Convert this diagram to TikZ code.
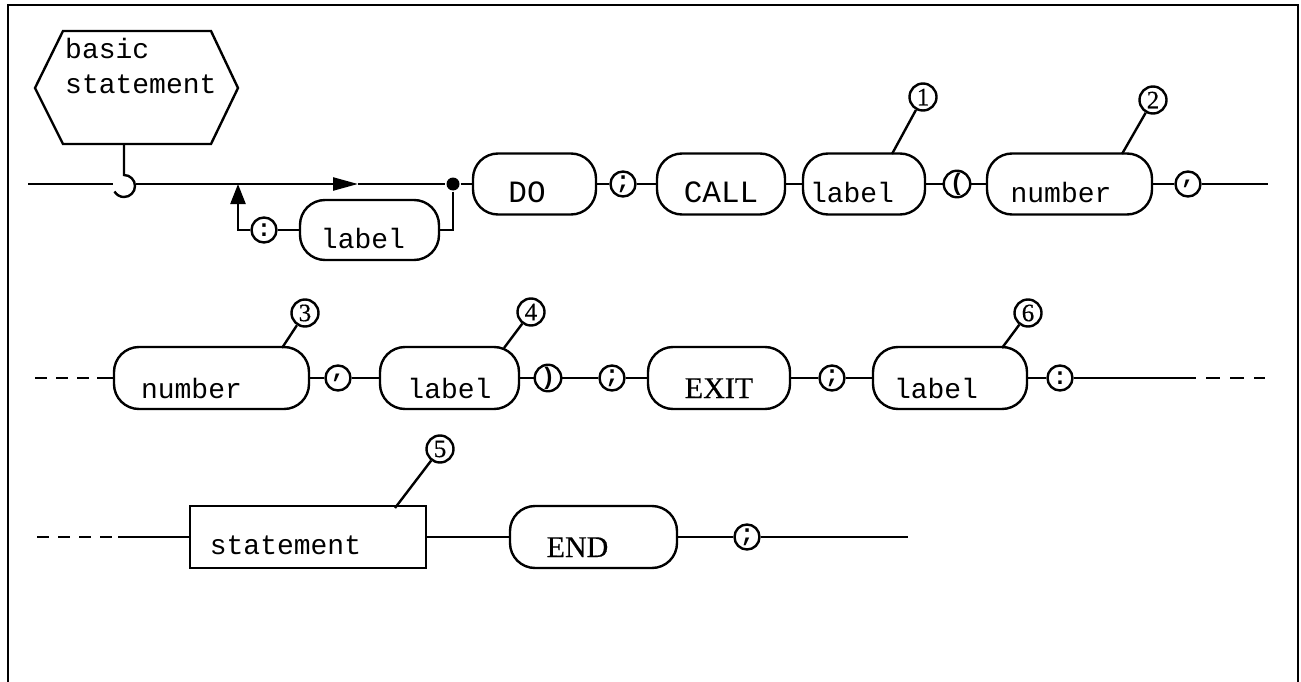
\documentclass[tikz,border=0pt]{standalone}
\usepackage{fontspec}
\setmainfont{Liberation Serif}[FakeBold=0.4]
\setmonofont{Liberation Mono}
\usetikzlibrary{arrows.meta,calc}
\begin{document}
\begin{tikzpicture}[x=1pt,y=-1pt,line width=2.4pt,
  term/.style={draw,rounded corners=25pt,inner sep=0pt,minimum height=61pt,
    text height=40pt,text depth=4pt,font=\ttfamily\fontsize{28}{28}\selectfont},
  termb/.style={term,text height=44pt,minimum height=62pt},
  sterm/.style={termb,font=\rmfamily\fontsize{30}{30}\selectfont},
  pc/.style={draw,circle,minimum size=25pt,inner sep=0pt,
    font=\ttfamily\bfseries\fontsize{24}{24}\selectfont},
  cn/.style={draw,circle,minimum size=27pt,inner sep=0pt,
    font=\rmfamily\fontsize{25}{25}\selectfont},
  dotn/.style={circle,fill,inner sep=0pt,minimum size=13pt},
  capsfont/.style={font=\ttfamily\fontsize{31}{31}\selectfont},
  dsh/.style={dash pattern=on 12pt off 9pt}]
\useasboundingbox (0,0) rectangle (1301,682);
% frame
\draw[line width=2.8pt] (8,682) -- (8,5) -- (1298,5) -- (1298,682);

% hexagon
\draw (35,88) -- (63,31) -- (211,31) -- (238,88) -- (211,144) -- (63,144) -- cycle;
\node[anchor=north west,inner sep=0pt,align=left,font=\ttfamily\fontsize{28}{35}\selectfont] (hxt) at (64,37) {basic\\statement};
\coordinate (hexb) at (124,144);
\coordinate (hk) at (124,175);

% ---------------- row 1
\coordinate (st) at (28,184);
\coordinate (hl) at (113,184);
\coordinate (hr) at (136,184);
\coordinate (ar) at (358,184);
\coordinate (up) at (238,184);
\node[dotn] (dot) at (453,184) {};
\node[term,minimum width=139pt,minimum height=60pt] (lb0) at (369.5,230) {label\kern13pt};
\node[pc] (col0) at (264,230) {:};
\node[term,minimum width=123pt,capsfont] (do) at (534.5,184) {DO\kern15pt};
\node[pc] (sc1) at (623,184) {;};
\node[term,minimum width=128pt,capsfont] (call) at (721,184) {CALL};
\node[term,minimum width=122pt] (lb1) at (864,184) {label\kern24pt};
\node[pc] (lp) at (957,184) {(};
\node[term,minimum width=165pt] (nm1) at (1069.5,184) {number\kern17pt};
\node[pc] (cm1) at (1188,184) {,};
\coordinate (e1) at (1268,184);
\node[cn] (n1) at (923,97) {1};
\node[cn] (n2) at (1153,100) {2};
\coordinate (t1) at (892,154);
\coordinate (t2) at (1122,154);

\draw (hexb) -- (hk) arc[start angle=-90,end angle=150,radius=11];
\draw (st) -- (hl);
\draw[-{Triangle[length=25pt,width=13pt]}] (hr) -- (ar);
\draw (ar) -- (dot);
\draw (dot) -- (do);
\draw (dot) |- (lb0.east);
\draw (lb0) -- (col0);
\draw[-{Triangle[length=20pt,width=15pt]}] (col0.west) -| (up);
\draw (do) -- (sc1);
\draw (sc1) -- (call);
\draw (call) -- (lb1);
\draw (lb1) -- (lp);
\draw (lp) -- (nm1);
\draw (nm1) -- (cm1);
\draw (cm1) -- (e1);
\draw (t1) -- (n1);
\draw (t2) -- (n2);

% ---------------- row 2
\coordinate (s2) at (35,378);
\coordinate (s2b) at (97,378);
\node[termb,minimum width=195pt] (nm2) at (211.5,378) {number\kern40pt};
\node[pc] (cm2) at (338,378) {,};
\node[termb,minimum width=139pt] (lb2) at (449.5,378) {label};
\node[pc] (rp) at (548,378) {)};
\node[pc] (sc2) at (612,378) {;};
\node[sterm,minimum width=142pt] (exit) at (719,378) {EXIT};
\node[pc] (sc3) at (832,378) {;};
\node[termb,minimum width=154pt] (lb3) at (950,378) {label\kern28pt};
\node[pc] (col2) at (1060,378) {:};
\coordinate (e2a) at (1182,378);
\coordinate (e2) at (1265,378);
\node[cn] (n3) at (305,313) {3};
\node[cn] (n4) at (531,312) {4};
\node[cn] (n6) at (1028,313) {6};
\coordinate (t3) at (282,348);
\coordinate (t4) at (504,348);
\coordinate (t6) at (1002,348);

\draw[dsh] (s2) -- (s2b);
\draw (s2b) -- (nm2);
\draw (nm2) -- (cm2);
\draw (cm2) -- (lb2);
\draw (lb2) -- (rp);
\draw (rp) -- (sc2);
\draw (sc2) -- (exit);
\draw (exit) -- (sc3);
\draw (sc3) -- (lb3);
\draw (lb3) -- (col2);
\draw (col2) -- (e2a);
\draw[dash pattern=on 14pt off 10pt] (e2a) -- (e2);
\draw (t3) -- (n3);
\draw (t4) -- (n4);
\draw (t6) -- (n6);

% ---------------- row 3
\coordinate (s3) at (37,537);
\coordinate (s3b) at (118,537);
\node[draw,inner sep=0pt,minimum width=236pt,minimum height=62pt,text height=38pt,text depth=4pt,
  font=\ttfamily\fontsize{28}{28}\selectfont] (stm) at (308,537) {statement\kern45pt};
\node[sterm,minimum width=167pt] (end) at (593.5,537) {END\kern32pt};
\node[pc] (sc4) at (747,537) {;};
\coordinate (e3) at (908,537);
\node[cn] (n5) at (440,449) {5};
\coordinate (t5) at (395,508);

\draw[dsh] (s3) -- (s3b);
\draw (s3b) -- (stm);
\draw (stm) -- (end);
\draw (end) -- (sc4);
\draw (sc4) -- (e3);
\draw (t5) -- (n5);
\end{tikzpicture}
\end{document}
